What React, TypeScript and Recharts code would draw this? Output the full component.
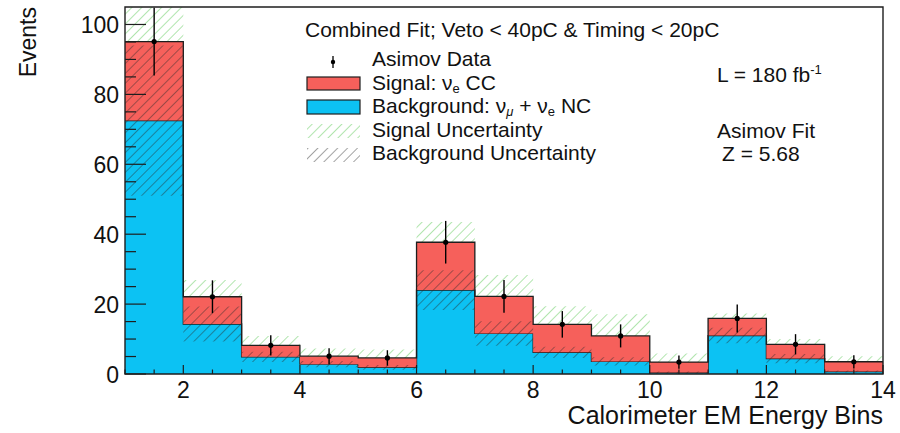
import {
  ComposedChart,
  Area,
  Scatter,
  ErrorBar,
  XAxis,
  YAxis,
  ReferenceArea,
} from 'recharts'

// bin lower edges (bins are 1 unit wide, last bin ends at 14)
const binLow = [1, 2, 3, 4, 5, 6, 7, 8, 9, 10, 11, 12, 13]
const binEnd = 14

// stacked histograms
const background = [72.5, 14.3, 4.9, 2.8, 1.9, 24.0, 11.6, 6.2, 3.6, 0.4, 11.0, 4.4, 0.7]
const signal = [22.6, 7.8, 3.3, 2.3, 2.7, 13.7, 10.6, 8.0, 7.3, 3.0, 4.9, 4.1, 2.8]

// uncertainty bands (half widths)
const signalUnc = [17, 4.8, 2.7, 2.2, 2.4, 5.8, 6.1, 5.2, 6.2, 2.5, 1.4, 1.5, 1.6]
const backgroundUnc = [21.5, 5, 1.5, 0.9, 0.7, 5.7, 3.5, 1.6, 1.2, 0.3, 2.2, 1.3, 0.3]

// asimov data points at bin centres
const binCenter = [1.5, 2.5, 3.5, 4.5, 5.5, 6.5, 7.5, 8.5, 9.5, 10.5, 11.5, 12.5, 13.5]
const asimov = [95.1, 22.1, 8.2, 5.1, 4.6, 37.7, 22.2, 14.2, 10.9, 3.4, 15.9, 8.5, 3.5]
const asimovErr = [9.7, 4.7, 2.9, 2.3, 2.2, 6.1, 4.7, 3.8, 3.3, 1.9, 4.0, 2.9, 1.9]

// axis ticks
const xTicks = [1, 1.5, 2, 2.5, 3, 3.5, 4, 4.5, 5, 5.5, 6, 6.5, 7, 7.5, 8, 8.5, 9, 9.5, 10, 10.5, 11, 11.5, 12, 12.5, 13, 13.5, 14]
const xLabels = [2, 4, 6, 8, 10, 12, 14]
const yTicks = [0, 5, 10, 15, 20, 25, 30, 35, 40, 45, 50, 55, 60, 65, 70, 75, 80, 85, 90, 95, 100]
const yLabels = [0, 20, 40, 60, 80, 100]
const yMax = 105

const RED = '#f6605b'
const BLUE = '#0cc2f3'
const LINE = '#1e1e1e'
const FONT = '"Liberation Sans", Arial, Helvetica, sans-serif'

const row = (i: number) => {
  const total = background[i] + signal[i]
  return {
    bg: background[i],
    sig: signal[i],
    sigBand: [total - signalUnc[i], total + signalUnc[i]],
    bgBand: [background[i] - backgroundUnc[i], background[i] + backgroundUnc[i]],
  }
}

const steps = [
  ...binLow.map((x, i) => ({ x, ...row(i) })),
  { x: binEnd, ...row(binLow.length - 1) },
]

const points = binCenter.map((x, i) => ({ x, y: asimov[i], err: asimovErr[i] }))

const XTick = ({ x, y, payload }: any) => {
  const v = payload.value
  const major = xLabels.includes(v)
  return (
    <g>
      <line x1={x} x2={x} y1={y} y2={y - (major ? 9 : 4.5)} stroke={LINE} strokeWidth={1.2} />
      {major && (
        <text x={x} y={y} dy={24} textAnchor="middle" fontSize={23} fill="#111" fontFamily={FONT}>
          {v}
        </text>
      )}
    </g>
  )
}

const YTick = ({ x, y, payload }: any) => {
  const v = payload.value
  const major = yLabels.includes(v)
  return (
    <g>
      <line x1={x + 6} x2={x + 6 + (major ? 21 : 11)} y1={y} y2={y} stroke={LINE} strokeWidth={1.2} />
      {major && (
        <text x={x} y={y} dy={8.5} textAnchor="end" fontSize={23} fill="#111" fontFamily={FONT}>
          {v}
        </text>
      )}
    </g>
  )
}

const Dot = ({ cx, cy }: any) => <circle cx={cx} cy={cy} r={2.6} fill="#000" />

function Hatches({ suffix }: { suffix: string }) {
  return (
    <defs>
      <pattern id={`green${suffix}`} patternUnits="userSpaceOnUse" width="7" height="7" patternTransform="rotate(45)">
        <line x1="0" y1="0" x2="0" y2="7" stroke="#9ddf99" strokeWidth="1.6" />
      </pattern>
      <pattern id={`dark${suffix}`} patternUnits="userSpaceOnUse" width="7" height="7" patternTransform="rotate(45)">
        <line x1="0" y1="0" x2="0" y2="7" stroke="#2a2a2a" strokeOpacity="0.8" strokeWidth="1.1" />
      </pattern>
    </defs>
  )
}

function Overlay() {
  const t = { fontFamily: FONT, fill: '#111' }
  return (
    <svg width={900} height={433} style={{ position: 'absolute', left: 0, top: 0, pointerEvents: 'none' }}>
      <Hatches suffix="L" />
      <text x={36} y={7} transform="rotate(-90 36 7)" textAnchor="end" fontSize={23} {...t}>
        Events
      </text>
      <text x={883} y={424} textAnchor="end" fontSize={25} {...t}>
        Calorimeter EM Energy Bins
      </text>

      <text x={305} y={37} fontSize={21} {...t}>
        Combined Fit; Veto &lt; 40pC &amp; Timing &lt; 20pC
      </text>

      <line x1={333} x2={333} y1={56} y2={68} stroke="#000" strokeWidth={1.3} />
      <circle cx={333} cy={62} r={2.2} fill="#000" />
      <text x={372} y={66} fontSize={21} {...t}>Asimov Data</text>

      <rect x={307} y={77} width={53} height={13} fill={RED} stroke={LINE} strokeWidth={1.2} />
      <text x={372} y={90} fontSize={21} {...t}>
        Signal: ν<tspan fontSize={13} dy={3}>e</tspan>
        <tspan dy={-3}> CC</tspan>
      </text>

      <rect x={307} y={100} width={53} height={14} fill={BLUE} stroke={LINE} strokeWidth={1.2} />
      <text x={372} y={113} fontSize={21} {...t}>
        Background: ν<tspan fontSize={13} dy={3} fontStyle="italic">μ</tspan>
        <tspan dy={-3}> + ν</tspan>
        <tspan fontSize={13} dy={3}>e</tspan>
        <tspan dy={-3}> NC</tspan>
      </text>

      <rect x={307} y={124} width={53} height={14} fill="url(#greenL)" />
      <text x={372} y={137} fontSize={21} {...t}>Signal Uncertainty</text>

      <rect x={307} y={148} width={53} height={14} fill="url(#darkL)" />
      <text x={372} y={160} fontSize={21} {...t}>Background Uncertainty</text>

      <text x={717} y={82} fontSize={21} {...t}>
        L = 180 fb<tspan fontSize={13} dy={-8}>-1</tspan>
      </text>
      <text x={717} y={138} fontSize={21} {...t}>Asimov Fit</text>
      <text x={722} y={161} fontSize={21} {...t}>Z = 5.68</text>
    </svg>
  )
}

export default function App() {
  return (
    <div style={{ position: 'absolute', left: 0, top: 0, width: 900, height: 433, background: '#fff' }}>
      <ComposedChart
        width={900}
        height={433}
        data={steps}
        margin={{ top: 7, right: 17, left: 0, bottom: 0 }}
      >
        <Hatches suffix="" />
        <XAxis
          dataKey="x"
          type="number"
          domain={[1, binEnd]}
          ticks={xTicks}
          interval={0}
          tick={<XTick />}
          tickSize={0}
          tickMargin={0}
          tickLine={false}
          axisLine={false}
          height={59}
          allowDataOverflow
        />
        <YAxis
          type="number"
          domain={[0, yMax]}
          ticks={yTicks}
          interval={0}
          tick={<YTick />}
          tickSize={0}
          tickMargin={6}
          tickLine={false}
          axisLine={false}
          width={125}
          allowDataOverflow
        />
        <Area
          type="stepAfter"
          dataKey="sigBand"
          stroke="none"
          fill="url(#green)"
          fillOpacity={1}
          dot={false}
          activeDot={false}
          isAnimationActive={false}
        />
        <Area
          type="stepAfter"
          dataKey="bg"
          stackId="h"
          stroke={LINE}
          strokeWidth={1.3}
          fill={BLUE}
          fillOpacity={1}
          dot={false}
          activeDot={false}
          isAnimationActive={false}
        />
        <Area
          type="stepAfter"
          dataKey="sig"
          stackId="h"
          stroke={LINE}
          strokeWidth={1.3}
          fill={RED}
          fillOpacity={1}
          dot={false}
          activeDot={false}
          isAnimationActive={false}
        />
        <Area
          type="stepAfter"
          dataKey="bgBand"
          stroke="none"
          fill="url(#dark)"
          fillOpacity={1}
          dot={false}
          activeDot={false}
          isAnimationActive={false}
        />
        <Scatter data={points} dataKey="y" shape={<Dot />} isAnimationActive={false}>
          <ErrorBar dataKey="err" direction="y" width={0} stroke="#000" strokeWidth={1.4} />
        </Scatter>
        <ReferenceArea x1={1} x2={binEnd} y1={0} y2={yMax} fill="none" stroke={LINE} strokeWidth={1.4} ifOverflow="visible" />
      </ComposedChart>
      <Overlay />
    </div>
  )
}
